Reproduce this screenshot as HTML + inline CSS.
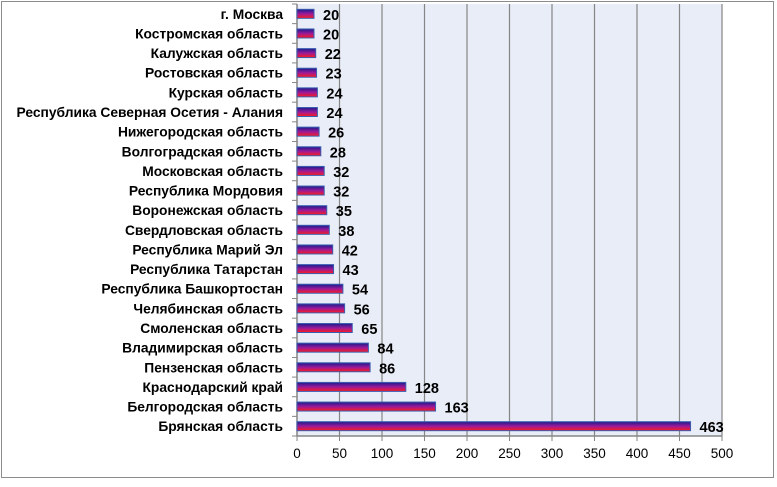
<!DOCTYPE html>
<html><head><meta charset="utf-8"><style>
body{margin:0;background:#fff;}
svg text{font-family:"Liberation Sans",sans-serif;}
</style></head><body>
<svg id="c" width="777" height="482">
<defs><linearGradient id="g" x1="0" y1="0" x2="0" y2="1">
<stop offset="0" stop-color="#1a1a8c"/><stop offset="0.5" stop-color="#9a1a9a"/><stop offset="1" stop-color="#ff1a1a"/></linearGradient></defs>
<rect x="1.5" y="1.5" width="772" height="476" fill="#fff" stroke="#8c8c8c"/>
</svg>
<script>
const categories=["г. Москва","Костромская область","Калужская область","Ростовская область","Курская область","Республика Северная Осетия - Алания","Нижегородская область","Волгоградская область","Московская область","Республика Мордовия","Воронежская область","Свердловская область","Республика Марий Эл","Республика Татарстан","Республика Башкортостан","Челябинская область","Смоленская область","Владимирская область","Пензенская область","Краснодарский край","Белгородская область","Брянская область"];
const values=[20,20,22,23,24,24,26,28,32,32,35,38,42,43,54,56,65,84,86,128,163,463];
const ticks=[0,50,100,150,200,250,300,350,400,450,500];
const svg=document.getElementById('c');const NS='http://www.w3.org/2000/svg';
const L=297,R=722,T=4,B=436,max=500;
const x=v=>L+(v/max)*(R-L);
const band=(B-T)/categories.length;
const yc=i=>T+band*(i+0.5);
function mk(t,a){const e=document.createElementNS(NS,t);for(const k in a)e.setAttribute(k,a[k]);svg.appendChild(e);return e;}
let e=mk('rect',{x:L,y:T,width:R-L,height:B-T,fill:'#e9edf7'});


ticks.forEach(t=>{
 if(t>0){let g=mk('line',{x1:x(t),x2:x(t),y1:T,y2:B,stroke:'#868686','stroke-width':1.2});
 
 }
 let k=mk('line',{x1:x(t),x2:x(t),y1:B,y2:B+5,stroke:'#868686'});
 
 
 let tx=mk('text',{x:x(t),y:B+22,'text-anchor':'middle','font-size':13.5,fill:'#000'});tx.textContent=t;
 
 
});
let ax=mk('line',{x1:L,x2:L,y1:T,y2:B,stroke:'#868686','stroke-width':1.5});


let ax2=mk('line',{x1:L,x2:R,y1:B,y2:B,stroke:'#868686','stroke-width':1.5});


for(let i=0;i<=categories.length;i++){let k=mk('line',{x1:L-5,x2:L,y1:T+band*i,y2:T+band*i,stroke:'#868686'});
 
 }
categories.forEach((c,i)=>{
 const y=yc(i);
 let r=mk('rect',{x:L,y:y-4.5,width:x(values[i])-L,height:9,fill:'url(#g)',stroke:'#3b5fb0','stroke-width':1});
 
 
 let lb=mk('text',{x:L-14,y:y+5,'text-anchor':'end','font-size':13.8,'font-weight':'bold',fill:'#000'});lb.textContent=c;
 
 
 let v=mk('text',{x:x(values[i])+9,y:y+6,'font-size':14.5,'font-weight':'bold',fill:'#000'});v.textContent=values[i];
 
 
});
</script>
</body></html>
